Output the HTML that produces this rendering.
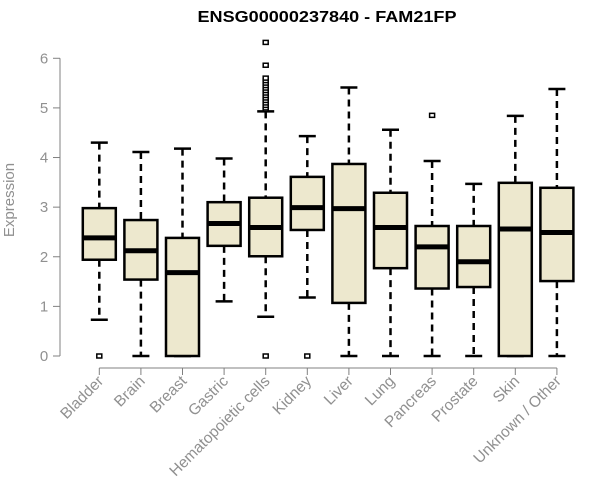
<!DOCTYPE html>
<html><head><meta charset="utf-8"><style>
body{margin:0;background:#fff}
svg{display:block;font-family:"Liberation Sans",Arial,sans-serif}
</style></head><body>
<svg id="chart" width="600" height="500">
<text x="327" y="22" text-anchor="middle" font-weight="bold" font-size="16" textLength="259" lengthAdjust="spacingAndGlyphs">ENSG00000237840 - FAM21FP</text>
<text transform="translate(14,200) rotate(-90)" text-anchor="middle" font-size="15" fill="#909090">Expression</text>
<g id="plot"></g>
</svg>
<script>
const categories=["Bladder","Brain","Breast","Gastric","Hematopoietic cells","Kidney","Liver","Lung","Pancreas","Prostate","Skin","Unknown / Other"];
const lowerWhisker=[0.73,0,0,1.10,0.79,1.18,0,0,0,0,0,0];
const q1=[1.94,1.54,0,2.22,2.01,2.54,1.07,1.77,1.36,1.39,0,1.51];
const medians=[2.38,2.12,1.68,2.67,2.59,2.99,2.97,2.59,2.20,1.90,2.56,2.49];
const q3=[2.98,2.74,2.38,3.10,3.19,3.61,3.87,3.29,2.62,2.62,3.49,3.39];
const upperWhisker=[4.30,4.11,4.18,3.98,4.93,4.43,5.41,4.56,3.93,3.47,4.84,5.38];
const outliers=[[0],[],[],[],[0,4.97,5.0,5.05,5.1,5.15,5.2,5.25,5.3,5.35,5.4,5.45,5.5,5.55,5.6,5.86,6.32],[0],[],[],[4.85],[],[],[]];
const yTicks=[0,1,2,3,4,5,6];
const ns="http://www.w3.org/2000/svg";
const g=document.getElementById('plot');
const y=v=>356-v*49.62;
const x=i=>99.3+i*41.6;
function mk(t,a){const e=document.createElementNS(ns,t);for(const k in a)e.setAttribute(k,a[k]);g.appendChild(e);return e;}
let ax=mk('line',{x1:60,x2:60,y1:y(6),y2:y(0),stroke:'#808080'});


yTicks.forEach(v=>{
 const t=mk('line',{x1:53,x2:60,y1:y(v),y2:y(v),stroke:'#808080'});
 
 
 const l=mk('text',{x:44,y:y(v)+5,'text-anchor':'middle','font-size':15,fill:'#909090'});
 l.textContent=v;
 
 
});
let xa=mk('line',{x1:x(0),x2:x(categories.length-1),y1:368,y2:368,stroke:'#808080'});


categories.forEach((c,i)=>{
 const cx=x(i);
 const t=mk('line',{x1:cx,x2:cx,y1:368,y2:375,stroke:'#808080'});
 
 
 const l=mk('text',{transform:`translate(${cx+5},${382}) rotate(-45)`,'text-anchor':'end','font-size':15.5,fill:'#909090'});
 l.textContent=c;
 
 
 const w1=mk('line',{x1:cx,x2:cx,y1:y(upperWhisker[i]),y2:y(q3[i]),stroke:'#000','stroke-width':2.5,'stroke-dasharray':'7,5'});
 
 
 const w2=mk('line',{x1:cx,x2:cx,y1:y(q1[i]),y2:y(lowerWhisker[i]),stroke:'#000','stroke-width':2.5,'stroke-dasharray':'7,5'});
 
 
 [upperWhisker[i],lowerWhisker[i]].forEach(v=>{
  const cp=mk('line',{x1:cx-8.5,x2:cx+8.5,y1:y(v),y2:y(v),stroke:'#000','stroke-width':2.5});
  
  
 });
 const b=mk('rect',{x:cx-16.5,y:y(q3[i]),width:33,height:y(q1[i])-y(q3[i]),fill:'#ede8ce',stroke:'#000','stroke-width':2.5});
 
 
 const m=mk('line',{x1:cx-16.5,x2:cx+16.5,y1:y(medians[i]),y2:y(medians[i]),stroke:'#000','stroke-width':5});
 
 
 outliers[i].forEach(v=>{
  const o=mk('rect',{x:cx-2.5,y:y(v)-2,width:5,height:4,fill:'#fff',stroke:'#000','stroke-width':1.5});
  
  
 });
});
</script>
</body></html>
